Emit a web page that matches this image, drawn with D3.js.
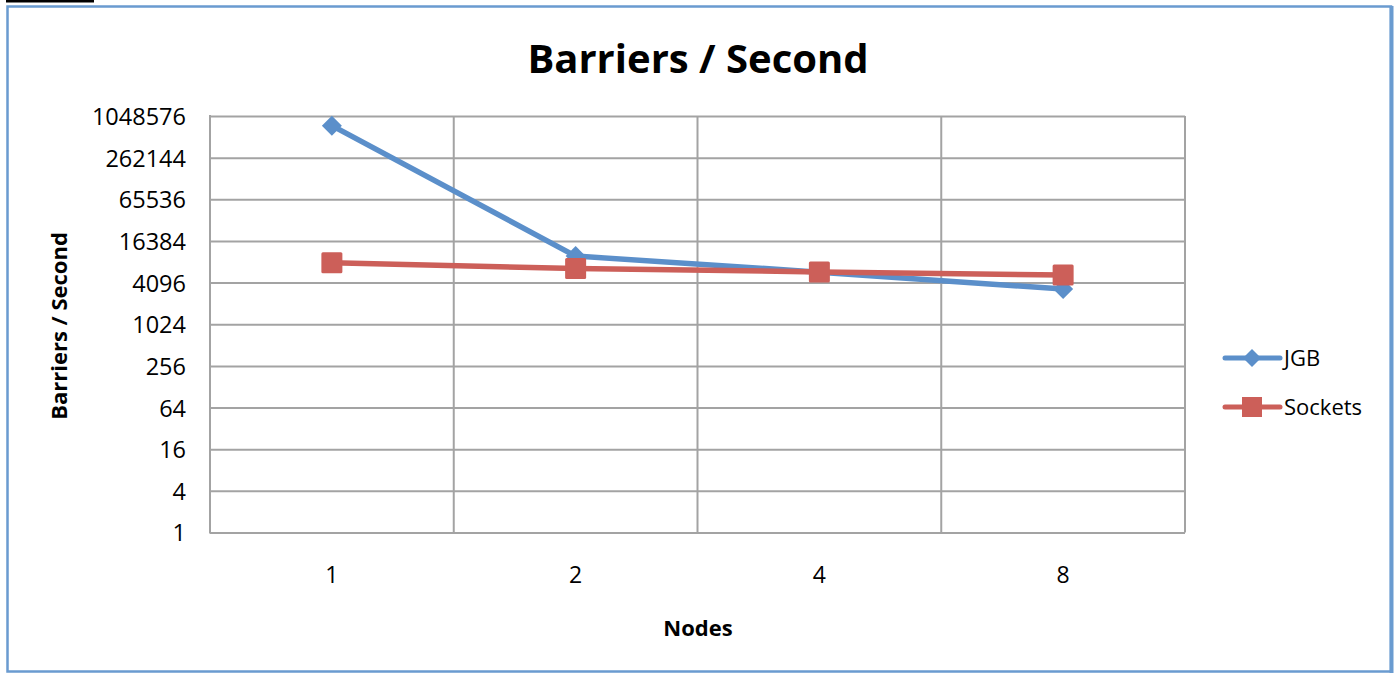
<!DOCTYPE html>
<html>
<head>
<meta charset="utf-8">
<script src="https://cdn.jsdelivr.net/npm/d3@7"></script>
<style>
  html, body { margin: 0; padding: 0; background: #fff; }
  svg { display: block; }
  text { font-family: "Open Sans", "Liberation Sans", sans-serif; fill: #000; }
</style>
</head>
<body>
<svg id="chart" width="1395" height="673"></svg>
<script>
const categories = ["1", "2", "4", "8"];
const jgbValues = [760000, 9900, 5800, 3300];
const socketsValues = [7950, 6550, 5850, 5280];
const yTickValues = [1, 4, 16, 64, 256, 1024, 4096, 16384, 65536, 262144, 1048576];
const seriesNames = ["JGB", "Sockets"];

const svg = d3.select("#chart");
const W = 1395, H = 673;
const plot = { left: 210, right: 1185, top: 116, bottom: 532.5 };
const colors = { JGB: "#5b8fca", Sockets: "#cc5f59" };
const gridColor = "#a3a3a3";

// background + outer border
svg.append("rect").attr("x", 0).attr("y", 0).attr("width", W).attr("height", H).attr("fill", "#fff");
svg.append("rect").attr("x", 6).attr("y", 0).attr("width", 88).attr("height", 2.5).attr("fill", "#000");
svg.append("rect").attr("x", 7.5).attr("y", 6.5).attr("width", 1383.5).attr("height", 665)
  .attr("fill", "none").attr("stroke", "#6a9bd0").attr("stroke-width", 2.5);
svg.append("line").attr("x1", 1391.5).attr("x2", 1391.5).attr("y1", 6).attr("y2", 673)
  .attr("stroke", "#6a9bd0").attr("stroke-width", 4);

const x = d3.scaleBand().domain(categories).range([plot.left, plot.right]);
const y = d3.scaleLog().base(4).domain([1, 1048576]).range([plot.bottom, plot.top]);

// horizontal gridlines via axis
const yGrid = d3.axisLeft(y).tickValues(yTickValues).tickSize(-(plot.right - plot.left)).tickFormat("");
const gy = svg.append("g").attr("transform", `translate(${plot.left},0)`).call(yGrid);
gy.select(".domain").remove();
gy.selectAll("line").attr("stroke", gridColor).attr("stroke-width", 2);

// vertical gridlines at band boundaries
const bounds = categories.map(c => x(c) + x.bandwidth());
svg.append("g").selectAll("line").data(bounds).join("line")
  .attr("x1", d => d).attr("x2", d => d)
  .attr("y1", plot.top).attr("y2", plot.bottom)
  .attr("stroke", gridColor).attr("stroke-width", 2);
// left axis line
svg.append("line").attr("x1", plot.left).attr("x2", plot.left)
  .attr("y1", plot.top - 1).attr("y2", plot.bottom + 1)
  .attr("stroke", gridColor).attr("stroke-width", 2);

// y tick labels
const yAxis = d3.axisLeft(y).tickValues(yTickValues).tickSize(0).tickPadding(0).tickFormat(d3.format("d"));
const ga = svg.append("g").attr("transform", `translate(186,0)`).call(yAxis);
ga.select(".domain").remove();
ga.selectAll("text").attr("font-size", 23.5).attr("font-family", "Open Sans").attr("fill", "#000").attr("dy", "0.36em");

// x tick labels
const xAxis = d3.axisBottom(x).tickSize(0).tickPadding(0);
const gx = svg.append("g").attr("transform", `translate(0,567)`).call(xAxis);
gx.select(".domain").remove();
gx.selectAll("text").attr("font-size", 23).attr("font-family", "Open Sans").attr("fill", "#000").attr("dy", "0.71em");

// title
svg.append("text").attr("x", 698).attr("y", 73).attr("text-anchor", "middle")
  .attr("font-weight", "bold").attr("font-size", 40).text("Barriers / Second");
// axis titles
svg.append("text").attr("x", 698).attr("y", 636).attr("text-anchor", "middle")
  .attr("font-weight", "bold").attr("font-size", 22).text("Nodes");
svg.append("text").attr("transform", "translate(67,326) rotate(-90)").attr("text-anchor", "middle")
  .attr("font-weight", "bold").attr("font-size", 22).text("Barriers / Second");

const cx = c => x(c) + x.bandwidth() / 2;
const line = d3.line().x(d => cx(d.c)).y(d => y(d.v));

const series = [
  { name: "JGB", values: jgbValues },
  { name: "Sockets", values: socketsValues }
];

function drawMarker(g, name, px, py) {
  if (name === "JGB") {
    const s = 10;
    g.append("path").attr("d", `M${px},${py - s}L${px + s},${py}L${px},${py + s}L${px - s},${py}Z`)
      .attr("fill", colors.JGB);
  } else {
    const s = 10.5;
    g.append("rect").attr("x", px - s).attr("y", py - s).attr("width", 2 * s).attr("height", 2 * s)
      .attr("rx", 1.5).attr("fill", colors.Sockets);
  }
}

series.forEach(s => {
  const pts = categories.map((c, i) => ({ c, v: s.values[i] }));
  const g = svg.append("g");
  g.append("path").datum(pts).attr("d", line).attr("fill", "none")
    .attr("stroke", colors[s.name]).attr("stroke-width", 5.5).attr("stroke-linejoin", "round");
  pts.forEach(p => drawMarker(g, s.name, cx(p.c), y(p.v)));
});

// legend
const legendY = [358, 407];
seriesNames.forEach((n, i) => {
  const g = svg.append("g");
  g.append("line").attr("x1", 1225).attr("x2", 1280).attr("y1", legendY[i]).attr("y2", legendY[i])
    .attr("stroke", colors[n]).attr("stroke-width", 5).attr("stroke-linecap", "round");
  if (n === "JGB") {
    const px = 1252, py = legendY[i], s = 9;
    g.append("path").attr("d", `M${px},${py - s}L${px + s},${py}L${px},${py + s}L${px - s},${py}Z`).attr("fill", colors[n]);
  } else {
    g.append("rect").attr("x", 1242).attr("y", legendY[i] - 10).attr("width", 20).attr("height", 20).attr("fill", colors[n]);
  }
  g.append("text").attr("x", 1284).attr("y", legendY[i]).attr("dy", "0.36em")
    .attr("font-size", 22).text(n);
});
</script>
</body>
</html>
